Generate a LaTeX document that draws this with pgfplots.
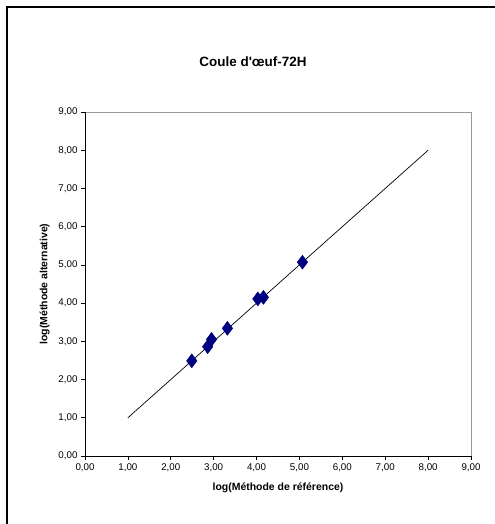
\documentclass[border=0pt]{standalone}
\usepackage{pgfplots}
\pgfplotsset{compat=1.18}
\usepackage{fontspec}
\setmainfont{Liberation Sans}
\definecolor{navymark}{RGB}{0,0,128}
\begin{document}
\begin{tikzpicture}
\path[use as bounding box] (0,0) rectangle (495bp,524bp);
\draw[line width=1.2bp] (7bp,-5bp) -- (7bp,517bp) -- (500bp,517bp);
\node[font=\fontsize{13.5}{15}\selectfont\bfseries] at (253bp,462bp) {Coule d\textquotesingle œuf-72H};
\begin{axis}[
  at={(85bp,68bp)}, anchor=south west,
  scale only axis, width=386bp, height=344bp,
  xmin=0, xmax=9, ymin=0, ymax=9,
  xtick={0,1,...,9}, ytick={0,1,...,9},
  axis line style={draw=none},
  tick align=outside, major tick length=4bp,
  tick style={black, line width=0.6bp},
  xtick pos=bottom, ytick pos=left,
  /pgf/number format/.cd, fixed, fixed zerofill, precision=2, use comma, assume math mode=true,
  /pgfplots/.cd,
  ticklabel style={font=\fontsize{9.8}{11}\selectfont},
  xlabel={log(Méthode de référence)},
  ylabel={log(Méthode alternative)},
  label style={font=\fontsize{10.5}{12}\selectfont\bfseries},
  xlabel style={yshift=-4bp},
  ylabel style={yshift=2bp},
  clip=false,
]
\draw[gray!80, line width=0.8bp] (axis cs:0,9) -- (axis cs:9,9) -- (axis cs:9,0);
\draw[black, line width=1bp] (axis cs:0,9) -- (axis cs:0,0) -- (axis cs:9,0);
\addplot[black, line width=0.7bp, no marks] coordinates {(1,1) (8,8)};
\addplot[only marks, mark=diamond*, mark size=7bp, color=navymark, mark options={draw=navymark, fill=navymark}] coordinates {
(2.49,2.49) (2.86,2.86) (2.95,3.05) (3.32,3.34) (4.03,4.11) (4.16,4.15) (5.07,5.07)
};
\end{axis}
\end{tikzpicture}
\end{document}
